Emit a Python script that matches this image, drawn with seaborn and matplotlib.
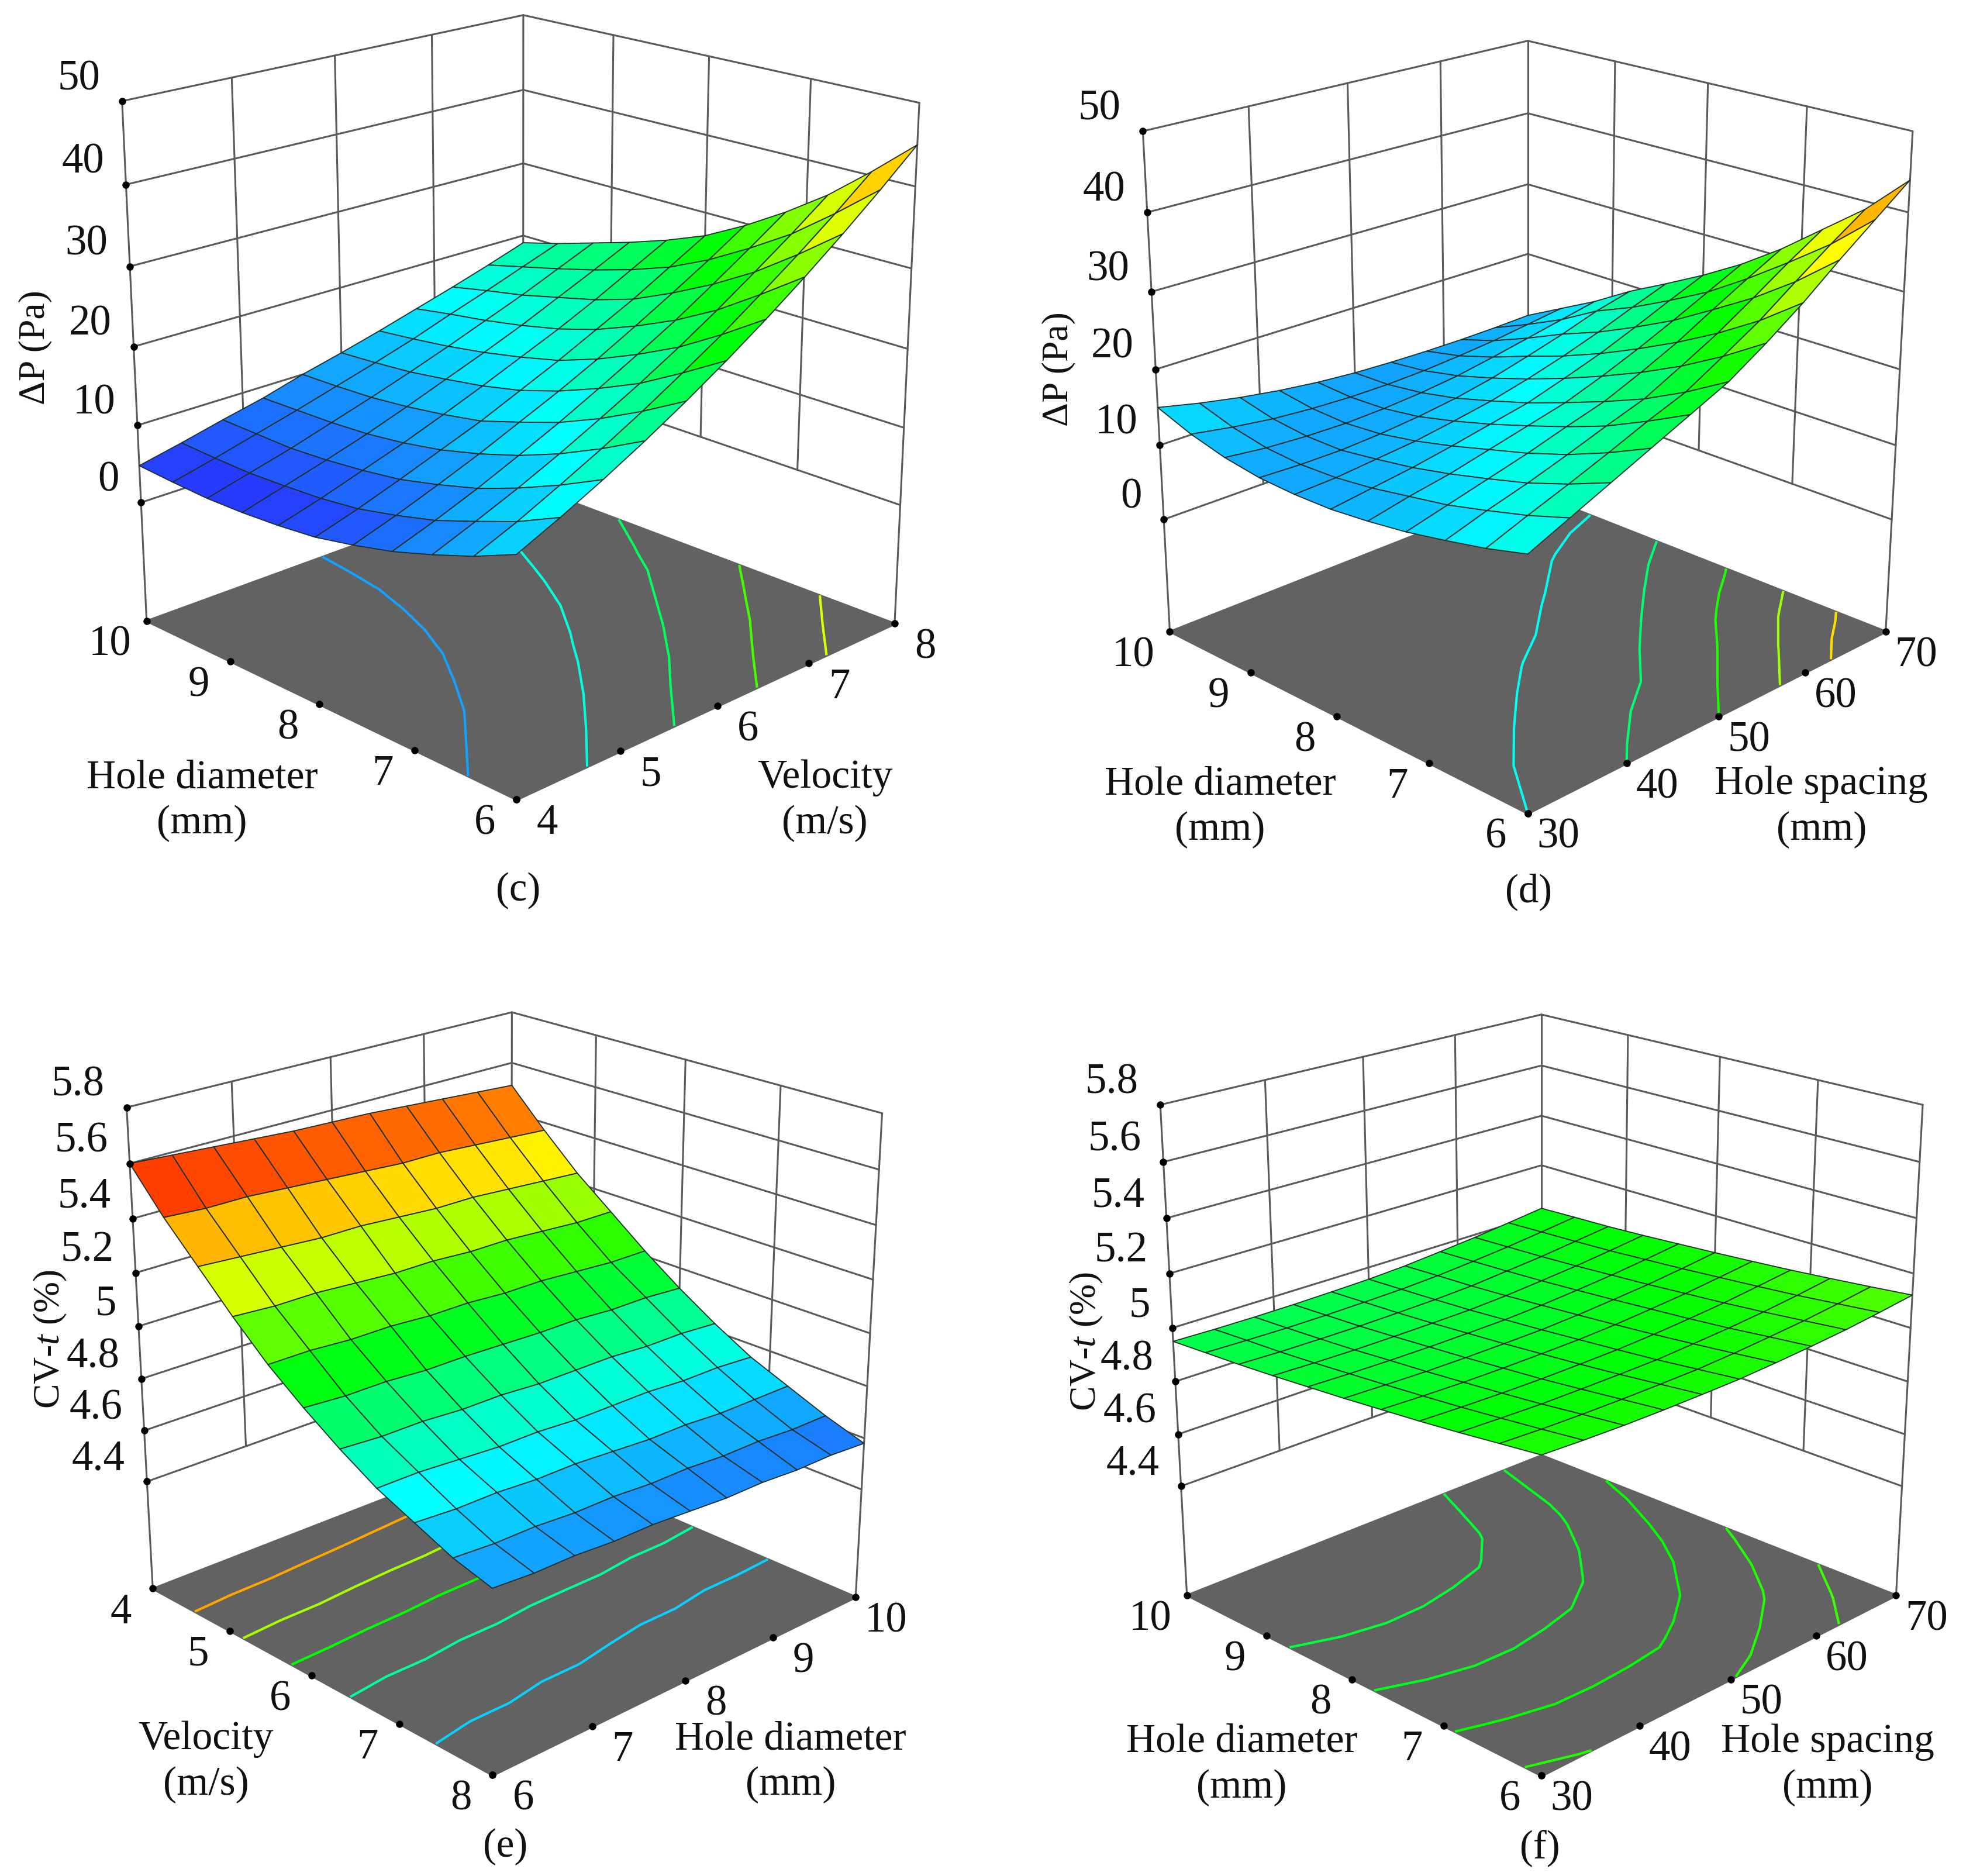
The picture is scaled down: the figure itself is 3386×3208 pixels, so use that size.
import numpy as np
import matplotlib
matplotlib.use("Agg")
import matplotlib.pyplot as plt
import seaborn as sns
from mpl_toolkits.mplot3d import proj3d
from mpl_toolkits.mplot3d.art3d import Poly3DCollection

sns.set_style("white")
plt.rcParams["font.family"] = ["Liberation Serif", "DejaVu Serif"]
plt.rcParams["mathtext.fontset"] = "custom"
plt.rcParams["mathtext.it"] = "Liberation Serif:italic"
plt.rcParams["mathtext.rm"] = "Liberation Serif"

W, H = 3387, 3208

# ticks
velocity_ticks = [4, 5, 6, 7, 8]
velocity_ticks_rev = [8, 7, 6, 5, 4]
diameter_ticks = [6, 7, 8, 9, 10]
spacing_ticks = [30, 40, 50, 60, 70]
dp_ticks = [0, 10, 20, 30, 40, 50]
cv_ticks = [4.4, 4.6, 4.8, 5.0, 5.2, 5.4, 5.6, 5.8]
cv_labels = ["4.4", "4.6", "4.8", "5", "5.2", "5.4", "5.6", "5.8"]

# sampled factor levels
velocity = [4, 4.4, 4.8, 5.2, 5.6, 6, 6.4, 6.8, 7.2, 7.6, 8]
diameter = [6, 6.4, 6.8, 7.2, 7.6, 8, 8.4, 8.8, 9.2, 9.6, 10]
spacing = [30, 34, 38, 42, 46, 50, 54, 58, 62, 66, 70]

# (c) dP, rows = diameter, columns = velocity
dp_c = [
    [13.0, 15.3, 17.8, 20.5, 23.4, 26.5, 29.8, 33.3, 37.0, 40.9, 45.0],
    [10.8, 12.9, 15.3, 17.8, 20.5, 23.4, 26.4, 29.7, 33.1, 36.7, 40.5],
    [9.0, 11.0, 13.1, 15.4, 17.9, 20.5, 23.3, 26.3, 29.5, 32.8, 36.3],
    [7.4, 9.2, 11.2, 13.4, 15.7, 18.2, 20.8, 23.5, 26.5, 29.6, 32.8],
    [6.2, 7.9, 9.8, 11.8, 14.0, 16.2, 18.6, 21.2, 23.9, 26.7, 29.7],
    [5.2, 6.8, 8.6, 10.5, 12.4, 14.6, 16.8, 19.2, 21.6, 24.3, 27.0],
    [4.7, 6.2, 7.9, 9.6, 11.5, 13.5, 15.6, 17.7, 20.0, 22.5, 25.0],
    [4.4, 5.9, 7.4, 9.0, 10.8, 12.7, 14.6, 16.6, 18.8, 21.0, 23.3],
    [4.3, 5.7, 7.1, 8.7, 10.3, 12.0, 13.8, 15.7, 17.6, 19.7, 21.8],
    [4.5, 5.8, 7.2, 8.6, 10.1, 11.6, 13.2, 15.0, 16.7, 18.5, 20.3],
    [4.8, 6.0, 7.3, 8.5, 10.0, 11.3, 12.7, 14.2, 15.7, 17.3, 19.0],
]

# (d) dP, rows = diameter, columns = spacing
dp_d = [
    [16.0, 18.2, 20.4, 22.6, 24.8, 27.0, 30.0, 33.3, 37.0, 40.5, 44.0],
    [14.6, 16.5, 18.3, 20.2, 22.2, 24.0, 26.7, 29.5, 32.8, 36.0, 39.0],
    [13.5, 15.1, 16.5, 18.1, 19.8, 21.4, 23.8, 26.3, 29.2, 32.2, 35.0],
    [12.5, 13.8, 15.1, 16.4, 17.9, 19.3, 21.3, 23.5, 26.1, 28.6, 31.0],
    [11.8, 12.9, 13.8, 15.0, 16.2, 17.4, 19.1, 21.0, 23.1, 25.3, 27.5],
    [11.3, 12.0, 12.7, 13.6, 14.6, 15.6, 17.1, 18.7, 20.6, 22.6, 24.5],
    [11.2, 11.4, 11.9, 12.4, 13.2, 14.1, 15.3, 16.7, 18.3, 20.1, 21.8],
    [11.4, 11.2, 11.2, 11.5, 12.0, 12.7, 13.7, 15.0, 16.4, 18.0, 19.2],
    [12.1, 11.5, 11.2, 11.1, 11.3, 11.7, 12.3, 13.2, 14.2, 15.2, 16.2],
    [13.3, 12.4, 11.7, 11.3, 11.1, 11.1, 11.3, 11.7, 12.2, 12.9, 13.6],
    [15.0, 13.8, 12.8, 12.0, 11.4, 11.0, 10.8, 10.7, 10.7, 10.8, 11.0],
]

# (e) CV-t, rows = velocity, columns = diameter
cv_e = [
    [5.60, 5.59, 5.58, 5.57, 5.56, 5.555, 5.55, 5.54, 5.53, 5.52, 5.51],
    [5.45, 5.44, 5.44, 5.43, 5.42, 5.41, 5.40, 5.40, 5.39, 5.38, 5.37],
    [5.32, 5.31, 5.30, 5.29, 5.29, 5.28, 5.27, 5.27, 5.26, 5.25, 5.24],
    [5.19, 5.18, 5.18, 5.17, 5.16, 5.16, 5.15, 5.15, 5.14, 5.13, 5.13],
    [5.07, 5.07, 5.06, 5.06, 5.05, 5.05, 5.04, 5.04, 5.03, 5.02, 5.02],
    [4.97, 4.96, 4.96, 4.95, 4.95, 4.945, 4.94, 4.94, 4.93, 4.93, 4.92],
    [4.88, 4.87, 4.87, 4.86, 4.86, 4.85, 4.85, 4.85, 4.84, 4.84, 4.83],
    [4.80, 4.80, 4.79, 4.78, 4.78, 4.77, 4.77, 4.77, 4.76, 4.76, 4.75],
    [4.74, 4.73, 4.73, 4.72, 4.72, 4.71, 4.70, 4.70, 4.69, 4.69, 4.69],
    [4.68, 4.67, 4.67, 4.66, 4.66, 4.65, 4.65, 4.64, 4.64, 4.63, 4.63],
    [4.64, 4.63, 4.63, 4.62, 4.62, 4.61, 4.60, 4.60, 4.59, 4.59, 4.58],
]

# (f) CV-t, rows = spacing, columns = diameter
cv_f = [
    [5.070, 5.053, 5.036, 5.021, 5.008, 4.995, 4.984, 4.973, 4.964, 4.957, 4.950],
    [5.064, 5.047, 5.031, 5.016, 5.003, 4.991, 4.980, 4.969, 4.960, 4.954, 4.947],
    [5.060, 5.044, 5.027, 5.013, 5.000, 4.988, 4.978, 4.967, 4.959, 4.952, 4.946],
    [5.059, 5.043, 5.027, 5.012, 5.000, 4.988, 4.978, 4.968, 4.959, 4.953, 4.947],
    [5.060, 5.044, 5.028, 5.014, 5.002, 4.990, 4.980, 4.970, 4.962, 4.956, 4.950],
    [5.062, 5.046, 5.030, 5.017, 5.005, 4.993, 4.983, 4.973, 4.966, 4.960, 4.954],
    [5.069, 5.053, 5.038, 5.024, 5.012, 5.001, 4.991, 4.981, 4.973, 4.968, 4.962],
    [5.078, 5.063, 5.047, 5.034, 5.023, 5.012, 5.002, 4.993, 4.986, 4.980, 4.975],
    [5.089, 5.074, 5.059, 5.046, 5.035, 5.024, 5.015, 5.006, 4.999, 4.994, 4.989],
    [5.104, 5.089, 5.074, 5.062, 5.051, 5.040, 5.031, 5.022, 5.016, 5.011, 5.006],
    [5.121, 5.106, 5.092, 5.079, 5.068, 5.058, 5.049, 5.040, 5.033, 5.029, 5.024],
]

# contour levels on the floor
levels_c = [10.5, 17, 23, 30, 37]
levels_d = [16, 21.5, 27, 32.5, 38]
levels_e = [4.71, 4.87, 5.03, 5.2, 5.4]
levels_f = [4.975, 5.003, 5.033, 5.063, 5.092]

cmap = sns.blend_palette(["#2a2aff", "#00ffff", "#00ff00", "#ffff00", "#ff2000"], as_cmap=True)

fig = plt.figure(figsize=(W / 300, H / 300), dpi=300)


def fig_text(tx, ty, s, **kw):
    fig.text(tx / 1568, 1 - ty / 1485, s, ha="center", va="center", **kw)


def panel(cx, cy, size, elev, azim, zoom_z, focal, x_grid, y_grid, z_table,
          x_ticks, y_ticks, z_ticks, z_labels, z_floor, vmin, vmax, levels):
    # cx, cy, size in thumbnail pixels
    s = size / 1568
    sy = size / 1485
    ax = fig.add_axes([cx / 1568 - s / 2, 1 - cy / 1485 - sy / 2, s, sy],
                      projection="3d", computed_zorder=False)
    ax.set_axis_off()
    ax.view_init(elev=elev, azim=azim)
    ax.set_proj_type("persp", focal_length=focal)
    ax.set_xlim(x_ticks[0], x_ticks[-1])
    ax.set_ylim(y_ticks[0], y_ticks[-1])
    ax.set_zlim(z_floor, z_ticks[-1])
    ax.set_box_aspect((1, 1, zoom_z), zoom=1.0)

    x0, x1 = x_ticks[0], x_ticks[-1]
    y0, y1 = y_ticks[0], y_ticks[-1]
    z0, z1 = z_ticks[0], z_ticks[-1]

    floor = Poly3DCollection([[(x0, y0, z_floor), (x1, y0, z_floor), (x1, y1, z_floor), (x0, y1, z_floor)]],
                             facecolor="#626262", edgecolor="#626262", zorder=1)
    ax.add_collection3d(floor)

    grid = dict(color="#5a5a5a", lw=0.75, zorder=0.5, solid_capstyle="round")
    # wall grid
    for zt in z_ticks:
        ax.plot([x0, x1], [y1, y1], [zt, zt], **grid)
        ax.plot([x1, x1], [y1, y0], [zt, zt], **grid)
    for xt in x_ticks[1:-1]:
        ax.plot([xt, xt], [y1, y1], [z0, z1], **grid)
    for yt in y_ticks[1:-1]:
        ax.plot([x1, x1], [yt, yt], [z0, z1], **grid)
    # corner edges
    ax.plot([x0, x0], [y1, y1], [z_floor, z1], **grid)
    ax.plot([x1, x1], [y1, y1], [z_floor, z1], **grid)
    ax.plot([x1, x1], [y0, y0], [z_floor, z1], **grid)

    X, Y = np.meshgrid(x_grid, y_grid)
    Z = np.array(z_table)
    ax.contour(X, Y, Z, levels=levels, zdir="z", offset=z_floor, cmap=cmap,
               vmin=vmin, vmax=vmax, linewidths=1.0, zorder=2)
    ax.plot_surface(X, Y, Z, rstride=1, cstride=1, cmap=cmap, vmin=vmin, vmax=vmax,
                    edgecolor="#20302a", linewidth=0.45, shade=False, zorder=3)

    # tick dots
    dots = dict(color="black", s=9, depthshade=False, zorder=5, linewidths=0)
    ax.scatter([x0] * len(z_ticks), [y1] * len(z_ticks), z_ticks, **dots)
    ax.scatter(x_ticks, [y0] * len(x_ticks), [z_floor] * len(x_ticks), **dots)
    ax.scatter([x0] * len(y_ticks), y_ticks, [z_floor] * len(y_ticks), **dots)

    M = ax.get_proj()

    def tick_label(x, y, z, label, dx, dy, ha="center"):
        px, py, _ = proj3d.proj_transform(x, y, z, M)
        ax.annotate(label, xy=(px, py), xytext=(dx, dy), textcoords="offset points",
                    ha=ha, va="center", fontsize=17.5, color="#111111",
                    annotation_clip=False, zorder=6)

    for zt, lab in zip(z_ticks, z_labels):
        tick_label(x0, y1, zt, lab, -9, 9, ha="right")
    for xt in x_ticks:
        tick_label(xt, y0, z_floor, str(xt), 12.5, -10)
    for yt in y_ticks:
        tick_label(x0, yt, z_floor, str(yt), -13 if yt != 10 else -15, -10)
    return ax


panel(402, 303, 729, 19.5, -134.5, 1.01, 0.58, velocity, diameter, dp_c,
      velocity_ticks, diameter_ticks, dp_ticks, [str(t) for t in dp_ticks], -15.7, 4, 50, levels_c)
panel(1200, 318.5, 703, 21, -135, 1.02, 0.55, spacing, diameter, dp_d,
      spacing_ticks, diameter_ticks, dp_ticks, [str(t) for t in dp_ticks], -15.5, 5, 47, levels_d)
panel(389, 1086, 688, 22.2, -133.5, 1.01, 0.58, diameter, velocity, cv_e,
      diameter_ticks, velocity_ticks_rev, cv_ticks, cv_labels, 3.97, 4.5, 5.56, levels_e)
panel(1211, 1085, 694, 21.1, -135, 1.01, 0.55, spacing, diameter, np.array(cv_f).T,
      spacing_ticks, diameter_ticks, cv_ticks, cv_labels, 3.97, 4.5, 5.56, levels_f)

label_kw = dict(fontsize=16.7, linespacing=1.3, color="#111111")
fig_text(160, 634, "Hole diameter\n(mm)", **label_kw)
fig_text(653, 634, "Velocity\n(m/s)", **label_kw)
fig_text(966, 639, "Hole diameter\n(mm)", **label_kw)
fig_text(1442, 639, "Hole spacing\n(mm)", **label_kw)
fig_text(163, 1395, "Velocity\n(m/s)", **label_kw)
fig_text(626, 1395, "Hole diameter\n(mm)", **label_kw)
fig_text(983, 1397, "Hole diameter\n(mm)", **label_kw)
fig_text(1447, 1397, "Hole spacing\n(mm)", **label_kw)

fig_text(28, 275, "\u0394P (Pa)", fontsize=15.3, rotation=90, color="#111111")
fig_text(838, 292, "\u0394P (Pa)", fontsize=15.3, rotation=90, color="#111111")
fig_text(40, 1060, r"CV-$\mathit{t}$ (%)", fontsize=15.3, rotation=90, color="#111111")
fig_text(860, 1062, r"CV-$\mathit{t}$ (%)", fontsize=15.3, rotation=90, color="#111111")

for tx, ty, s in [(410, 705, "(c)"), (1210, 706, "(d)"), (400, 1462, "(e)"), (1219, 1463, "(f)")]:
    fig_text(tx, ty, s, fontsize=16.5, color="#111111")

fig.savefig("out.png", dpi=300)
